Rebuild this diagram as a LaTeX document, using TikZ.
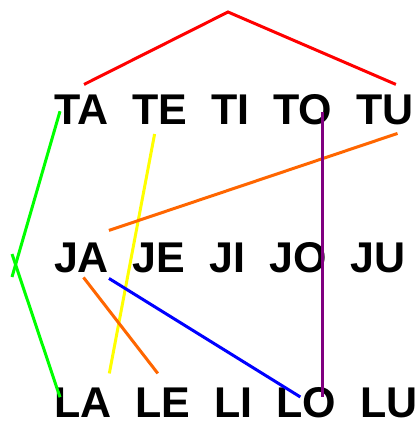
\documentclass[tikz,border=0pt]{standalone}
\usepackage{fontspec}
\setmainfont{Liberation Sans}
\usetikzlibrary{positioning,calc}
\tikzset{sylpx/.style={x=1pt,y=-1pt}}
\definecolor{lgvermelho}{HTML}{FF0000}
\definecolor{lgverde}{HTML}{00FF00}
\definecolor{lgamarelo}{HTML}{FFFF00}
\definecolor{lglaranja}{HTML}{FF6600}
\definecolor{lgazul}{HTML}{0000FF}
\definecolor{lgroxo}{HTML}{800080}
\tikzset{
  silaba/.style={font=\fontsize{43}{43}\selectfont\bfseries,text=black,inner sep=0pt,outer sep=0pt},
  traco/.style={line width=3pt},
}

\begin{document}
\begin{tikzpicture}[sylpx]
  \useasboundingbox (0,0) rectangle (415,421);
  % linha T
  \node[silaba,anchor=base west] (TA) at (54,124) {TA};
  \node[silaba,base right=24pt of TA] (TE) {TE};
  \node[silaba,base right=24pt of TE] (TI) {TI};
  \node[silaba,base right=24pt of TI] (TO) {TO};
  \node[silaba,base right=24pt of TO] (TU) {TU};
  % linha J
  \node[silaba,anchor=base west] (JA) at (54,272) {JA};
  \node[silaba,base right=24pt of JA] (JE) {JE};
  \node[silaba,base right=24pt of JE] (JI) {JI};
  \node[silaba,base right=24pt of JI] (JO) {JO};
  \node[silaba,base right=24pt of JO] (JU) {JU};
  % linha L
  \node[silaba,anchor=base west] (LA) at (54,417) {LA};
  \node[silaba,base right=24pt of LA] (LE) {LE};
  \node[silaba,base right=24pt of LE] (LI) {LI};
  \node[silaba,base right=24pt of LI] (LO) {LO};
  \node[silaba,base right=24pt of LO] (LU) {LU};
  \coordinate (cume) at (228,12);
  \coordinate (bico) at (12,265);
  \draw[traco,lgvermelho] ($(TA.north)+(3,-10)$) -- (cume) -- ($(TU.north)+(11,-10)$);
  \draw[traco,lgverde] ($(TA.west)+(6,2)$) -- ($(bico)+(0,12)$);
  \draw[traco,lgverde] ($(bico)+(0,-11)$) -- ($(LA.west)+(6,-5)$);
  \draw[traco,lgamarelo] ($(TE.south)+(-5,10)$) -- ($(LA.north east)+(-2,-14)$);
  \draw[traco,lglaranja] ($(JA.north east)+(0,-12)$) -- ($(TU.south east)+(-16,9)$);
  \draw[traco,lglaranja] ($(JA.south)+(2,5)$) -- ($(LE.north)+(-5,-14)$);
  \draw[traco,lgazul] ($(JA.south east)+(0,6)$) -- ($(LO.north)+(-6,10)$);
  \draw[traco,lgroxo] ($(TO.center)+(20,3)$) coordinate (topo) -- ($(topo |- LO.center)+(0,-5)$);
\end{tikzpicture}
\end{document}
